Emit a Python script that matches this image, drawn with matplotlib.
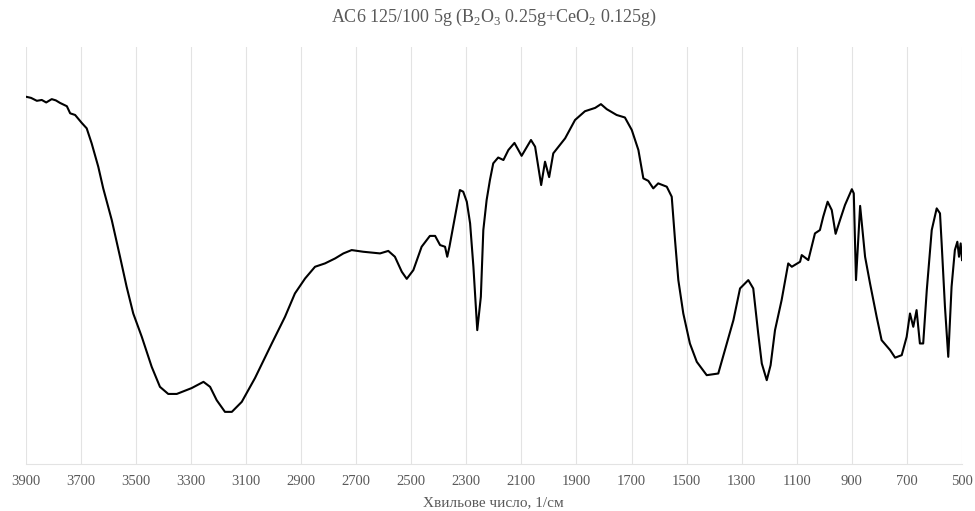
import matplotlib
matplotlib.use("Agg")
import matplotlib.pyplot as plt

plt.rcParams['font.family'] = ['Liberation Serif', 'DejaVu Serif']
plt.rcParams['mathtext.fontset'] = 'custom'
plt.rcParams['mathtext.rm'] = 'Liberation Serif'

# wavenumber (1/cm) and transmittance (arb. units)
wavenumber = [3900, 3880, 3859, 3841, 3825, 3805, 3790, 3775, 3750, 3738,
              3720, 3696, 3678, 3660, 3636, 3618, 3587, 3557, 3533, 3509,
              3478, 3442, 3412, 3382, 3351, 3297, 3254, 3230, 3206, 3176,
              3151, 3115, 3067, 3006, 2958, 2922, 2885, 2849, 2813, 2776,
              2746, 2716, 2674, 2613, 2583, 2559, 2534, 2516, 2492, 2462,
              2432, 2413, 2395, 2377, 2369, 2361, 2341, 2323, 2311, 2298,
              2286, 2274, 2260, 2247, 2238, 2226, 2214, 2202, 2184, 2165,
              2147, 2125, 2099, 2065, 2050, 2028, 2014, 1999, 1984, 1941,
              1905, 1869, 1832, 1811, 1790, 1754, 1724, 1699, 1675, 1657,
              1639, 1621, 1603, 1572, 1554, 1542, 1530, 1512, 1488, 1463,
              1427, 1385, 1354, 1330, 1306, 1276, 1258, 1240, 1227, 1209,
              1195, 1179, 1155, 1131, 1118, 1088, 1082, 1058, 1034, 1016,
              1004, 988, 973, 959, 943, 925, 900, 893, 885, 870,
              852, 834, 810, 792, 761, 743, 719, 701, 689, 677,
              665, 653, 641, 628, 610, 592, 580, 574, 562, 550,
              538, 526, 517, 511, 505, 500]
transmittance = [88.1, 87.8, 87.1, 87.3, 86.7, 87.5, 87.2, 86.6, 85.8, 84.1,
                 83.7, 81.8, 80.5, 76.9, 71.3, 66.1, 58.5, 49.7, 42.5, 36.1,
                 30.5, 23.3, 18.5, 16.8, 16.8, 18.2, 19.7, 18.5, 15.3, 12.5,
                 12.5, 14.9, 20.6, 28.9, 35.3, 40.9, 44.5, 47.3, 48.1, 49.3,
                 50.5, 51.3, 50.9, 50.5, 51.1, 49.7, 46.1, 44.4, 46.5, 52.1,
                 54.7, 54.7, 52.5, 52.1, 49.7, 52.1, 59.3, 65.7, 65.3, 62.9,
                 57.7, 47.3, 32.1, 40.1, 56.1, 63.3, 68.1, 72.1, 73.5, 72.9,
                 75.3, 77.0, 73.9, 77.7, 76.1, 66.9, 72.5, 68.8, 74.5, 78.1,
                 82.5, 84.6, 85.4, 86.3, 85.1, 83.7, 83.1, 80.1, 75.3, 68.5,
                 67.9, 66.1, 67.3, 66.5, 64.1, 53.7, 44.1, 36.1, 28.9, 24.5,
                 21.3, 21.7, 28.9, 34.5, 42.1, 44.1, 42.1, 31.3, 24.1, 20.1,
                 23.7, 32.1, 39.3, 48.1, 47.3, 48.5, 50.1, 48.9, 55.3, 56.1,
                 59.3, 62.9, 60.9, 55.2, 58.5, 62.1, 65.9, 64.9, 44.1, 61.9,
                 49.7, 43.3, 35.3, 29.7, 27.3, 25.5, 26.1, 30.5, 36.1, 32.9,
                 36.9, 28.9, 28.9, 41.7, 56.1, 61.3, 60.1, 52.9, 37.7, 25.7,
                 42.5, 51.3, 53.3, 49.7, 52.9, 48.9]

x_ticks = list(range(3900, 499, -200))

title = "AC6 125/100 5g (B$_2$O$_3$ 0.25g+CeO$_2$ 0.125g)"
x_label = "Хвильове число, 1/см"

text_color = '#595959'
grid_color = '#e3e3e3'

fig = plt.figure(figsize=(9.75, 5.11), dpi=100)
ax = fig.add_axes([0.0262, 0.092, 0.9605, 0.816])

ax.plot(wavenumber, transmittance, color='black', linewidth=1.5,
        solid_joinstyle='round')

ax.set_xlim(3900, 500)
ax.set_ylim(0, 100)
ax.set_xticks(x_ticks)
ax.set_yticks([])
ax.grid(axis='x', color=grid_color, linewidth=0.8)
ax.set_axisbelow(True)

for side in ['top', 'left', 'right']:
    ax.spines[side].set_visible(False)
ax.spines['bottom'].set_color(grid_color)
ax.spines['bottom'].set_linewidth(0.8)

ax.tick_params(axis='x', length=0, pad=8, labelsize=10.5, labelcolor=text_color)
ax.set_xlabel(x_label, fontsize=11, color=text_color, labelpad=6)
ax.set_title(title, fontsize=13, color=text_color, pad=18)

fig.savefig('out.png', dpi=100)
